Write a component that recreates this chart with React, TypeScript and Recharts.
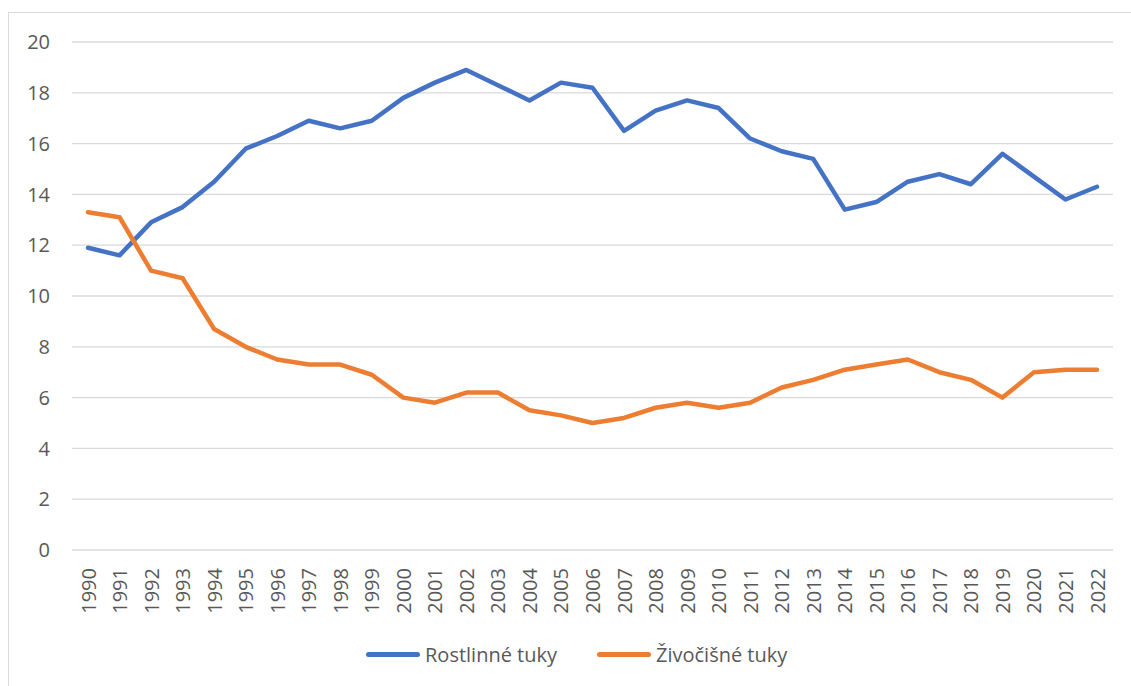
import React from "react";
import { LineChart, Line, XAxis, YAxis, CartesianGrid, Legend } from "recharts";

const years = [
    "1990", "1991", "1992", "1993", "1994", "1995", "1996", "1997", "1998", "1999",
    "2000", "2001", "2002", "2003", "2004", "2005", "2006", "2007", "2008", "2009",
    "2010", "2011", "2012", "2013", "2014", "2015", "2016", "2017", "2018", "2019",
    "2020", "2021", "2022",
];

const rostlinne = [
    11.9, 11.6, 12.9, 13.5, 14.5, 15.8, 16.3, 16.9, 16.6, 16.9,
    17.8, 18.4, 18.9, 18.3, 17.7, 18.4, 18.2, 16.5, 17.3, 17.7,
    17.4, 16.2, 15.7, 15.4, 13.4, 13.7, 14.5, 14.8, 14.4, 15.6,
    14.7, 13.8, 14.3,
];

const zivocisne = [
    13.3, 13.1, 11.0, 10.7, 8.7, 8.0, 7.5, 7.3, 7.3, 6.9,
    6.0, 5.8, 6.2, 6.2, 5.5, 5.3, 5.0, 5.2, 5.6, 5.8,
    5.6, 5.8, 6.4, 6.7, 7.1, 7.3, 7.5, 7.0, 6.7, 6.0,
    7.0, 7.1, 7.1,
];

const yTicks = [0, 2, 4, 6, 8, 10, 12, 14, 16, 18, 20];

const seriesNames = ["Rostlinné tuky", "Živočišné tuky"];
const colors = ["#4472c4", "#ed7d31"];

const data = years.map((year, i) => ({
    year,
    rostlinne: rostlinne[i],
    zivocisne: zivocisne[i],
}));

const FONT = "'Open Sans', sans-serif";
const TEXT = "#595959";

const YearTick = (props: any) => {
    const { x, y, payload } = props;
    return (
        <text
            x={x}
            y={y + 16}
            transform={`rotate(-90, ${x}, ${y + 16})`}
            textAnchor="end"
            dominantBaseline="central"
            fill={TEXT}
            fontSize={20}
            fontFamily={FONT}
        >
            {payload.value}
        </text>
    );
};

const LegendContent = () => (
    <div style={{ position: "relative", width: 1131, height: 50, fontFamily: FONT, fontSize: 20, color: TEXT }}>
        {[366, 597].map((left, i) => (
            <div key={i} style={{ position: "absolute", left, top: 4, display: "flex", alignItems: "center", height: 28 }}>
                <span style={{ display: "inline-block", width: 54, height: 5, borderRadius: 3, background: colors[i] }} />
                <span style={{ marginLeft: 5 }}>{seriesNames[i]}</span>
            </div>
        ))}
    </div>
);

export default function App() {
    return (
        <div style={{ position: "absolute", left: 0, top: 0, width: 1131, height: 686, background: "#fff", overflow: "hidden" }}>
            <div
                style={{
                    position: "absolute",
                    left: 8,
                    top: 12,
                    width: 1200,
                    height: 800,
                    borderTop: "1px solid #d9d9d9",
                    borderLeft: "1px solid #d9d9d9",
                }}
            />
            <LineChart width={1131} height={686} data={data} margin={{ top: 42, right: 18, bottom: 0, left: 0 }}>
                <CartesianGrid vertical={false} stroke="#d9d9d9" strokeWidth={1.3} />
                <XAxis
                    dataKey="year"
                    axisLine={false}
                    tickLine={false}
                    tickSize={0}
                    interval={0}
                    height={86}
                    padding={{ left: 16, right: 16 }}
                    tick={<YearTick />}
                />
                <YAxis
                    domain={[0, 20]}
                    ticks={yTicks}
                    axisLine={false}
                    tickLine={false}
                    tickSize={0}
                    tickMargin={22}
                    width={72}
                    tick={{ fill: TEXT, fontSize: 20, fontFamily: FONT }}
                />
                <Legend verticalAlign="bottom" height={50} wrapperStyle={{ left: 0, width: 1131 }} content={<LegendContent />} />
                <Line
                    type="linear"
                    dataKey="rostlinne"
                    name={seriesNames[0]}
                    stroke={colors[0]}
                    strokeWidth={4.5}
                    strokeLinejoin="round"
                    strokeLinecap="round"
                    dot={false}
                    isAnimationActive={false}
                />
                <Line
                    type="linear"
                    dataKey="zivocisne"
                    name={seriesNames[1]}
                    stroke={colors[1]}
                    strokeWidth={4.5}
                    strokeLinejoin="round"
                    strokeLinecap="round"
                    dot={false}
                    isAnimationActive={false}
                />
            </LineChart>
        </div>
    );
}
